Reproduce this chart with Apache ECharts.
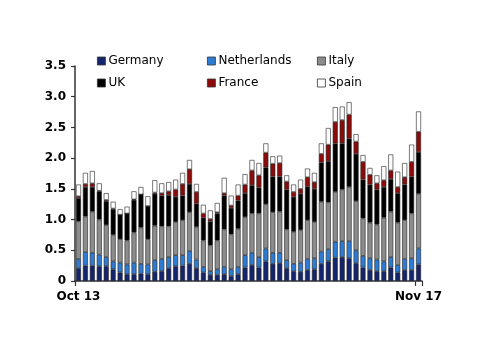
<!DOCTYPE html>
<html>
<head>
<meta charset="utf-8">
<script src="https://cdn.jsdelivr.net/npm/echarts@6/dist/echarts.min.js"></script>
<style>html,body{margin:0;padding:0;background:#fff}#c{width:500px;height:354px}</style>
</head>
<body>
<div id="c"></div>
<script>
const xTickLabels = ['Oct 13', 'Nov 17'];
const yTicks = [0, 0.5, 1.0, 1.5, 2.0, 2.5, 3.0, 3.5];
const seriesNames = ['Germany', 'Netherlands', 'Italy', 'UK', 'France', 'Spain'];
const germany     = [.21,.25,.25,.24,.24,.19,.14,.11,.11,.12,.11,.15,.16,.21,.24,.25,.28,.21,.14,.10,.10,.11,.08,.11,.22,.26,.22,.32,.28,.29,.21,.16,.15,.18,.19,.28,.32,.38,.39,.37,.29,.22,.18,.16,.16,.22,.14,.18,.18,.27];
const netherlands = [.15,.22,.21,.19,.15,.13,.16,.16,.19,.16,.16,.19,.20,.18,.18,.17,.21,.14,.09,.06,.09,.12,.11,.12,.20,.20,.17,.21,.18,.17,.13,.12,.15,.18,.18,.20,.20,.26,.26,.28,.21,.19,.19,.19,.16,.17,.12,.18,.19,.26];
const italy       = [.61,.58,.67,.57,.52,.43,.38,.39,.49,.59,.41,.56,.53,.50,.54,.57,.63,.53,.43,.42,.47,.61,.57,.62,.62,.64,.71,.72,.66,.67,.50,.52,.53,.63,.59,.81,.76,.81,.84,.88,.80,.61,.58,.57,.71,.74,.69,.63,.73,.89];
const uk          = [.38,.48,.40,.46,.39,.42,.40,.44,.53,.54,.54,.52,.50,.51,.41,.40,.46,.38,.37,.39,.44,.55,.43,.46,.39,.46,.42,.60,.58,.57,.65,.57,.59,.55,.54,.64,.67,.79,.75,.79,.77,.63,.62,.57,.50,.53,.48,.58,.60,.68];
const france      = [.03,.05,.06,.01,.02,.01,0,0,.01,0,0,.02,.04,.06,.12,.19,.24,.19,.07,.04,.02,.04,.04,.08,.14,.24,.20,.24,.21,.22,.13,.08,.08,.15,.11,.14,.27,.35,.38,.39,.20,.29,.16,.10,.11,.14,.10,.12,.24,.33];
const spain       = [.19,.18,.20,.12,.11,.11,.09,.11,.13,.12,.16,.20,.16,.15,.16,.18,.15,.13,.14,.14,.15,.25,.16,.18,.17,.17,.20,.15,.12,.12,.10,.12,.15,.14,.15,.17,.27,.24,.22,.20,.12,.11,.11,.13,.23,.26,.25,.23,.28,.33];
const colors = ['#14256e', '#2d7bd2', '#8c8c8c', '#000000', '#8b0a0a', '#ffffff'];

const seriesData = [germany, netherlands, italy, uk, france, spain];
const n = germany.length;
const categories = Array.from({length: n}, (_, i) => String(i));
const labelAt = {0: xTickLabels[0], [n - 1]: xTickLabels[1]};
const tickAt = {0: true, [n - 1]: true};

const font = 'DejaVu Sans';
const chart = echarts.init(document.getElementById('c'), null, {renderer: 'canvas'});

const legendPos = [
  {left: 97, top: 55}, {left: 207, top: 55}, {left: 317, top: 55},
  {left: 97, top: 77}, {left: 207, top: 77}, {left: 317, top: 77}
];

chart.setOption({
  animation: false,
  backgroundColor: '#fff',
  grid: {left: 75, right: 78, top: 66, bottom: 73},
  legend: seriesNames.map((name, i) => ({
    data: [name],
    left: legendPos[i].left,
    top: legendPos[i].top,
    icon: 'rect',
    itemWidth: 8,
    itemHeight: 8,
    itemGap: 3,
    padding: 0,
    textStyle: {fontFamily: font, fontSize: 12, color: '#000', padding: [0, 0, 0, -2]},
    itemStyle: {borderColor: '#333', borderWidth: 0.8}
  })),
  xAxis: {
    type: 'category',
    data: categories,
    axisLine: {lineStyle: {color: '#333', width: 1.5}},
    axisTick: {show: true, length: 5, interval: (i) => !!tickAt[i], lineStyle: {color: '#333', width: 1.2}},
    axisLabel: {
      interval: (i) => labelAt[i] !== undefined,
      formatter: (v, i) => labelAt[i] || '',
      fontFamily: font, fontWeight: 'bold', fontSize: 12, color: '#000', margin: 10
    }
  },
  yAxis: {
    type: 'value',
    min: yTicks[0],
    max: yTicks[yTicks.length - 1],
    interval: 0.5,
    splitLine: {show: false},
    axisLine: {show: true, lineStyle: {color: '#333', width: 1.5}},
    axisTick: {show: true, length: 4, lineStyle: {color: '#333', width: 1.2}},
    axisLabel: {
      formatter: (v) => v === 0 ? '0' : v.toFixed(1),
      fontFamily: font, fontWeight: 'bold', fontSize: 12, color: '#000', margin: 9
    }
  },
  series: seriesNames.map((name, i) => ({
    name: name,
    type: 'bar',
    stack: 'total',
    barCategoryGap: '28%',
    data: seriesData[i],
    itemStyle: {color: colors[i], borderColor: '#222', borderWidth: 0.6}
  }))
});
</script>
</body>
</html>
